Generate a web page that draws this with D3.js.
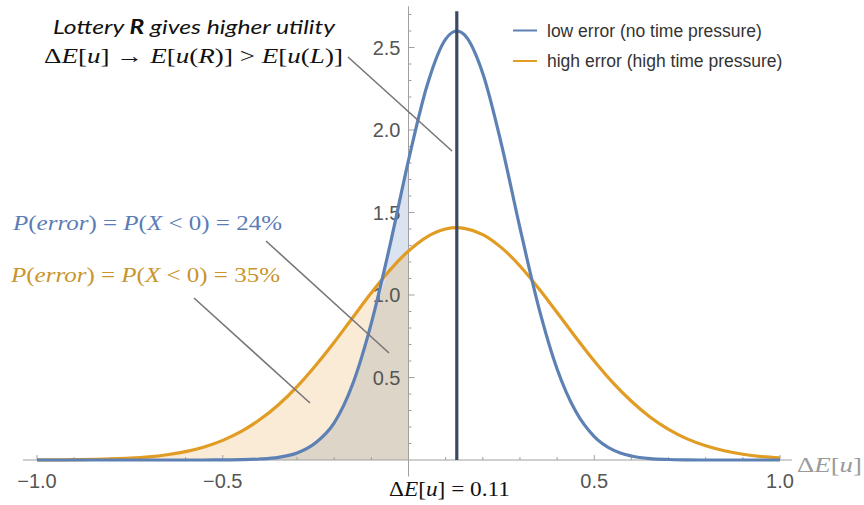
<!DOCTYPE html>
<html>
<head>
<meta charset="utf-8">
<script src="https://cdn.jsdelivr.net/npm/d3@7"></script>
<style>
  body { margin: 0; background: #fff; }
  svg { display: block; }
</style>
</head>
<body>
<script>
// values (x = ΔE[u], y = density)
var xs = [-1.0, -0.95, -0.9, -0.85, -0.8, -0.75, -0.7, -0.65, -0.6, -0.55,
          -0.5, -0.45, -0.4, -0.35, -0.3, -0.25, -0.2, -0.15, -0.1, -0.05,
          0.0, 0.05, 0.1, 0.13, 0.15, 0.2, 0.25, 0.3, 0.35, 0.4,
          0.45, 0.5, 0.55, 0.6, 0.65, 0.7, 0.75, 0.8, 0.85, 0.9, 0.95, 1.0];
var lowError = [0, 0, 0, 0, 0, 0, 0, 0, 0, 0.0001,
                0.0006, 0.002, 0.006, 0.016, 0.042, 0.104, 0.225, 0.462, 0.830, 1.300,
                1.816, 2.270, 2.551, 2.600, 2.578, 2.343, 1.915, 1.407, 0.930, 0.552,
                0.295, 0.142, 0.061, 0.024, 0.008, 0.003, 0.001, 0, 0, 0, 0, 0];
var highError = [0.0005, 0.001, 0.0019, 0.0035, 0.0064, 0.011, 0.019, 0.032, 0.051, 0.079,
                 0.119, 0.173, 0.245, 0.335, 0.445, 0.573, 0.714, 0.864, 1.013, 1.151,
                 1.267, 1.353, 1.400, 1.408, 1.404, 1.366, 1.287, 1.176, 1.041, 0.894,
                 0.744, 0.600, 0.469, 0.356, 0.261, 0.186, 0.128, 0.086, 0.056, 0.035, 0.021, 0.013];
var xTicks = [-1.0, -0.5, 0.5, 1.0];
var yTicks = [0.5, 1.0, 1.5, 2.0, 2.5];
var seriesNames = ["low error (no time pressure)", "high error (high time pressure)"];
var markerX = 0.13;   // where the dark line sits in the picture
var markerLabel = "0.11";

var width = 864, height = 505;
var blue = "#5e81b5", orange = "#e19c24";

var svg = d3.select("body").append("svg")
    .attr("width", width)
    .attr("height", height);

var x = d3.scaleLinear().domain([-1, 1]).range([37, 780]);
var y = d3.scaleLinear().domain([0, 2.75]).range([460, 6.25]);

var pts = xs.map(function (d, i) {
    return { x: d, lo: lowError[i], hi: highError[i] };
});
var left = pts.filter(function (d) { return d.x <= 0; });

// shaded error areas (x < 0)
function area(acc) {
    return d3.area()
        .x(function (d) { return x(d.x); })
        .y0(y(0))
        .y1(function (d) { return y(acc(d)); })
        .curve(d3.curveMonotoneX);
}
svg.append("path").datum(left)
    .attr("d", area(function (d) { return d.hi; }))
    .attr("fill", "#f9ebd6");
svg.append("path").datum(left)
    .attr("d", area(function (d) { return d.lo; }))
    .attr("fill", "#dce3f0");
svg.append("path").datum(left)
    .attr("d", area(function (d) { return Math.min(d.lo, d.hi); }))
    .attr("fill", "#ddd5c7");

// axes
var axisCol = "#a0a0a0", labelCol = "#555";
svg.append("line")
    .attr("x1", x(-1.038)).attr("x2", x(1.032))
    .attr("y1", y(0)).attr("y2", y(0))
    .attr("stroke", axisCol).attr("stroke-width", 1);
svg.append("line")
    .attr("x1", x(0)).attr("x2", x(0))
    .attr("y1", y(2.75)).attr("y2", y(-0.1))
    .attr("stroke", axisCol).attr("stroke-width", 1);

function isMajor(d) { return Math.abs(d * 2 - Math.round(d * 2)) < 1e-6; }
var minorX = d3.range(-10, 11).map(function (i) { return i / 10; });
svg.selectAll(".xt").data(minorX).enter().append("line")
    .attr("x1", function (d) { return x(d); })
    .attr("x2", function (d) { return x(d); })
    .attr("y1", y(0))
    .attr("y2", function (d) { return isMajor(d) ? y(0) - 5 : y(0) - 3; })
    .attr("stroke", axisCol);
var minorY = d3.range(1, 28).map(function (i) { return i / 10; });
svg.selectAll(".yt").data(minorY).enter().append("line")
    .attr("y1", function (d) { return y(d); })
    .attr("y2", function (d) { return y(d); })
    .attr("x1", x(0))
    .attr("x2", function (d) { return isMajor(d) ? x(0) + 6 : x(0) + 3; })
    .attr("stroke", axisCol);

svg.selectAll(".xl").data(xTicks).enter().append("text")
    .attr("x", function (d) { return x(d); })
    .attr("y", 488)
    .attr("text-anchor", "middle")
    .attr("font-family", "Liberation Sans, Arial, sans-serif")
    .attr("font-size", 20)
    .attr("fill", labelCol)
    .text(function (d) { return d3.format(".1f")(d).replace("-", "\u2212"); });
svg.selectAll(".yl").data(yTicks).enter().append("text")
    .attr("x", x(0) - 8)
    .attr("y", function (d) { return y(d) + 7; })
    .attr("text-anchor", "end")
    .attr("font-family", "Liberation Sans, Arial, sans-serif")
    .attr("font-size", 20)
    .attr("fill", labelCol)
    .text(function (d) { return d3.format(".1f")(d); });

// curves
function line(acc) {
    return d3.line()
        .x(function (d) { return x(d.x); })
        .y(function (d) { return y(acc(d)); })
        .curve(d3.curveMonotoneX);
}
svg.append("path").datum(pts)
    .attr("d", line(function (d) { return d.hi; }))
    .attr("fill", "none").attr("stroke", orange).attr("stroke-width", 3.2);
svg.append("path").datum(pts)
    .attr("d", line(function (d) { return d.lo; }))
    .attr("fill", "none").attr("stroke", blue).attr("stroke-width", 3.2);

// marker line at the mean
svg.append("line")
    .attr("x1", x(markerX)).attr("x2", x(markerX))
    .attr("y1", y(2.72)).attr("y2", y(0))
    .attr("stroke", "#3b4a62").attr("stroke-width", 3.2);

// legend
var legend = svg.append("g");
[blue, orange].forEach(function (c, i) {
    var yy = 30.5 + i * 30.5;
    legend.append("line")
        .attr("x1", 513).attr("x2", 537)
        .attr("y1", yy).attr("y2", yy)
        .attr("stroke", c).attr("stroke-width", 2);
    legend.append("text")
        .attr("x", 547).attr("y", yy + 6)
        .attr("font-family", "Liberation Sans, Arial, sans-serif")
        .attr("font-size", 17.5)
        .attr("fill", "#333")
        .text(seriesNames[i]);
});

// annotation pointer lines
var pointers = [[348, 57, 452, 151], [266, 241, 389, 353], [194, 298, 310, 403]];
svg.selectAll(".ptr").data(pointers).enter().append("line")
    .attr("x1", function (d) { return d[0]; })
    .attr("y1", function (d) { return d[1]; })
    .attr("x2", function (d) { return d[2]; })
    .attr("y2", function (d) { return d[3]; })
    .attr("stroke", "#777").attr("stroke-width", 1.6);

// math-ish text built from [text, italic, bold] parts
function richText(px, py, parts, opts) {
    var t = svg.append("text")
        .attr("x", px).attr("y", py)
        .attr("font-family", opts.font)
        .attr("font-size", opts.size)
        .attr("fill", opts.color);
    parts.forEach(function (p) {
        t.append("tspan")
            .attr("font-style", p[1] ? "italic" : "normal")
            .attr("font-weight", p[2] ? "bold" : "normal")
            .text(p[0]);
    });
    if (opts.width) {
        t.attr("textLength", opts.width).attr("lengthAdjust", "spacingAndGlyphs");
    }
    return t;
}
var serif = "Liberation Serif, DejaVu Serif, serif";

richText(53, 34, [["Lottery ", 1], ["R", 1, 1], [" gives higher utility", 1]],
    { font: "Lato, Open Sans, sans-serif", size: 20, color: "#111", width: 282 });
richText(44, 63, [["\u0394"], ["E", 1], ["["], ["u", 1], ["] \u2192 "], ["E", 1], ["["], ["u", 1], ["("],
    ["R", 1], [")] > "], ["E", 1], ["["], ["u", 1], ["("], ["L", 1], [")]"]],
    { font: serif, size: 22, color: "#111", width: 299 });

function pErr(py, pct, color, px) {
    richText(px, py, [["P", 1], ["("], ["error", 1], [") = "], ["P", 1], ["("], ["X", 1], [" < 0) = " + pct]],
        { font: serif, size: 22, color: color, width: 269 });
}
pErr(230, "24%", "#5b7cb6", 13);
pErr(282, "35%", "#c9952c", 11);

richText(389, 496, [["\u0394"], ["E", 1], ["["], ["u", 1], ["] = " + markerLabel]],
    { font: serif, size: 20, color: "#111", width: 121 });
richText(797, 472, [["\u0394"], ["E", 1], ["["], ["u", 1], ["]"]],
    { font: serif, size: 22, color: "#9a9a9a", width: 65 });
</script>
</body>
</html>
